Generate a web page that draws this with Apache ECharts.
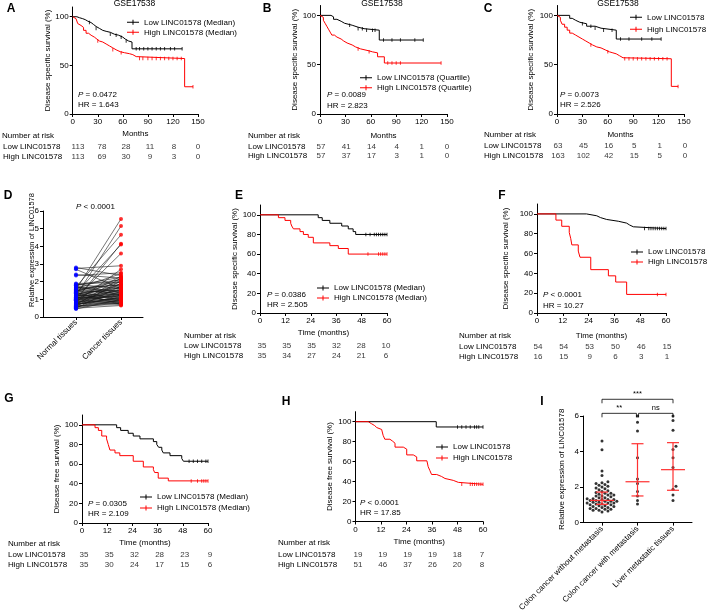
<!DOCTYPE html>
<html><head><meta charset="utf-8">
<script src="https://cdn.jsdelivr.net/npm/echarts@6.0.0/dist/echarts.min.js"></script>
<style>html,body{margin:0;padding:0;background:#fff;}#chart{width:709px;height:614px;}</style>
</head><body><div id="chart"></div>
<script>
// ================= DATA =================
const xTicksLong = [0, 30, 60, 90, 120, 150];
const xTicksShort = [0, 12, 24, 36, 48, 60];
const yTicksHalf = [0, 50, 100];
const yTicksFifth = [0, 20, 40, 60, 80, 100];
const riskRows = ['Low LINC01578', 'High LINC01578'];

// Panel A (GSE17538, median split)  [month, survival %]
const A_low = [[0,100],[5,99],[8,98],[12,97],[15,95.5],[18,94],[22,92],[25,90],[28,88],[32,86],[36,85],[40,84],[45,82],[50,81],[55,79],[60,77],[63,75],[67,74],[71,67],[131,67]];
const A_high = [[0,100],[2,98],[4,96],[6,93],[8,91],[10,89],[13,86],[16,83],[19,81],[22,79],[26,77],[29,75],[32,74],[36,72],[40,70],[44,68],[48,66],[52,64],[57,63],[62,62],[68,61],[72,59],[76,57],[134,28],[144,28]];
const A_low_censored = [20,28,45,52,58,64,76,80,85,90,95,100,105,110,117,122,131];
const A_high_censored = [30,48,58,80,84,90,95,100,105,110,115,120,125,130,144];
const A_risk_low = [113,78,28,11,8,0];
const A_risk_high = [113,69,30,9,3,0];

// Panel B (quartile split)
const B_low = [[0,100],[13,98.5],[16,96],[20,94],[25,92],[29,90],[38,88],[45,86.5],[52,85],[70,75],[122,75]];
const B_high = [[0,100],[2,98],[4,95],[6,92],[8,89],[10,86],[12,83],[14,80],[17,78],[20,76],[25,74],[28,72],[32,70],[38,68],[42,66],[48,64],[58,63],[62,62],[68,58],[76,51.7],[143,51.7]];
const B_low_censored = [35,45,50,55,62,65,75,85,95,112,122];
const B_high_censored = [45,58,80,85,90,95,143];
const B_risk_low = [57,41,14,4,1,0];
const B_risk_high = [57,37,17,3,1,0];

// Panel C
const C_low = [[0,100],[15,97],[18,95],[22,93],[27,91.5],[35,89],[45,87],[52,85],[70,76],[123,76]];
const C_high = [[0,100],[2,98],[4,95],[6,91],[9,88],[12,85],[15,82],[18,80],[22,78],[26,76],[30,74],[34,72],[38,70],[42,68],[47,67],[52,65],[57,63],[62,62],[66,61],[70,59],[74,57],[78,56],[135,28],[143,28]];
const C_low_censored = [30,40,45,55,65,75,85,100,112,123];
const C_high_censored = [40,60,80,85,90,95,100,105,110,115,120,125,130,143];
const C_risk_low = [63,45,16,5,1,0];
const C_risk_high = [163,102,42,15,5,0];

// Panel E
const E_low = [[0,100],[27.5,97.1],[29.4,94.3],[33,91.4],[38.6,88.6],[41.7,85.7],[44,82.9],[45.2,80],[60,80]];
const E_high = [[0,100],[8.7,97.1],[11.8,94.3],[14.5,91.4],[15,88.6],[15.8,85.7],[18.9,82.9],[20.5,80],[22.8,77.1],[25.2,71.4],[33,68.6],[37,65.7],[41.7,60],[60,60]];
const E_low_censored = [50,52,54,55,56,57,58,59,60];
const E_high_censored = [51,56,57,58,59,60];
const E_risk_low = [35,35,35,32,28,10];
const E_risk_high = [35,34,27,24,21,6];

// Panel F
const F_low = [[0,100],[23,98.1],[27.8,96.3],[29.5,94.4],[32.4,92.6],[37.8,90.7],[41.7,88.9],[43,87],[44.8,85.2],[60,85.2]];
const F_high = [[0,100],[8.8,93.75],[11.5,87.5],[15,81.25],[15.7,75],[16.2,68.75],[19.2,62.5],[20,56.25],[25,43.75],[33.2,37.5],[36.6,31.25],[41.7,18.75],[60,18.75]];
const F_low_censored = [50,52,53,54,55,56,57,58,59,60];
const F_high_censored = [56,60];
const F_risk_low = [54,54,53,50,46,15];
const F_risk_high = [16,15,9,6,3,1];

// Panel G (disease free, median)
const G_low = [[0,100],[16.5,97.1],[18.4,94.3],[22,91.4],[24.4,88.6],[27.6,85.7],[34,82.9],[35.6,80],[36.5,77.1],[38,74.3],[38.7,71.4],[41.9,68.6],[47.5,65.7],[48.3,62.9],[60,62.9]];
const G_high = [[0,100],[6.2,97.1],[7.8,94.3],[9.4,88.6],[11.7,85.7],[12.5,80],[13.3,74.3],[15.7,71.4],[18,68.6],[24.4,62.9],[29.2,57.1],[34,54.3],[34.6,51.4],[36.3,45.7],[41.1,42.9],[60,42.9]];
const G_low_censored = [51,53,55,57,59,60];
const G_high_censored = [52,55,57,58,59,60];
const G_risk_low = [35,35,32,28,23,9];
const G_risk_high = [35,30,24,17,15,6];

// Panel H
const H_low = [[0,100],[38,94.7],[60,94.7]];
const H_high = [[0,100],[6,98],[7.5,96.1],[9,94.1],[10,92.2],[12.3,90.2],[13,86.3],[13.8,82.4],[16.2,80.4],[17.5,78.4],[18.6,74.5],[22.5,72.5],[24.1,66.7],[27.2,64.7],[28.8,60.8],[33.6,58.8],[34.2,54.9],[35,51],[35.8,47.1],[38.2,45.1],[40.5,43.1],[42.1,41.2],[46,39.2],[48.4,37.3],[60,37.3]];
const H_low_censored = [48,50,52,54,56,57,58,60];
const H_high_censored = [50,54,55,56,57,58,59,60];
const H_risk_low = [19,19,19,19,18,7];
const H_risk_high = [51,46,37,26,20,8];

// Panel D: paired expression
const D_categories = ['Normal tissues', 'Cancer tissues'];
const D_normal = [1.55,1.20,1.70,0.95,1.35,1.10,2.75,0.85,2.35,1.60,2.80,1.00,2.40,0.70,1.45,1.80,2.70,0.60,1.25,1.90,0.75,1.15,1.65,0.50,1.05,1.30,1.85,0.90,1.40,0.65,1.75,1.00,1.50,0.80,1.20,0.55,1.60,0.95,1.10,0.70,1.35,0.85,1.25,0.45,1.05,1.50,0.75,1.15,0.60,0.90,1.30,0.55,1.00,0.80,1.70,0.65,1.40,0.50,1.10,0.85,1.80,0.95,1.55,0.70,1.20,1.45,0.60,1.05,0.75,1.65];
const D_cancer = [5.55,5.15,4.65,4.15,4.10,3.60,2.90,2.70,2.50,2.45,2.35,2.30,2.20,2.20,2.15,2.10,1.60,2.05,2.00,1.95,1.90,1.85,1.80,1.75,1.70,1.65,1.60,1.55,1.50,1.45,1.40,1.40,1.35,1.30,1.30,1.25,1.20,1.20,1.15,1.10,1.10,1.05,1.00,1.00,0.95,0.95,0.90,0.90,0.85,0.85,0.80,0.80,0.75,0.75,1.25,0.70,0.70,0.65,1.50,1.35,2.25,1.60,1.85,1.15,1.75,2.05,0.95,1.25,1.05,1.45];

// Panel I
const I_categories = ['Colon cancer without metastasis', 'Colon cancer with metastasis', 'Liver metastatic tissues'];
const I_group1 = [4.6,4.1,2.9,2.65,2.3,2.25,2.2,2.15,2.1,2.05,2.0,1.95,1.9,1.85,1.8,1.75,1.7,1.65,1.6,1.55,1.5,1.5,1.45,1.4,1.4,1.35,1.35,1.3,1.3,1.25,1.25,1.2,1.2,1.2,1.15,1.15,1.1,1.1,1.05,1.05,1.0,1.0,0.95,0.95,0.9,0.9,0.85,0.85,0.8,0.8,0.75,0.75,0.7,0.7,0.65,0.6,1.65,1.55,1.3,1.1];
const I_group2 = [6.0,5.65,5.15,3.65,2.45,2.2,1.75,1.5,1.25,1.05];
const I_group3 = [6.0,5.75,5.2,4.3,4.12,3.65,3.1,2.05,1.88,1.55,1.25];
const I_center = [1.25, 2.3, 2.98];
const I_lower = [1.03, 1.5, 1.82];
const I_upper = [1.72, 4.44, 4.5];
const I_brackets = [[0, 2, 6.94], [0, 0.97, 6.15], [1.03, 2, 6.15]];
const I_bracketLabels = ['***', '**', 'ns'];

// ================= STYLE / LAYOUT =================
const FONT = 'Liberation Sans';
const FS = 8;
const RED = '#ff0000';
const BLACK = '#000000';
const LEG_ICON = 'path://M0,9H24V11H0Z M11,5H13V15H11Z';

const grids = [], xAxes = [], yAxes = [], series = [], legends = [], graphics = [];

const axisLine = {show: true, onZero: false, lineStyle: {color: BLACK, width: 1}};
function tick(cv) { const t = {show: true, length: 3, lineStyle: {color: BLACK, width: 1}}; if (cv) t.customValues = cv; return t; }
function lab(extra) { return Object.assign({color: BLACK, fontSize: FS, fontFamily: FONT, margin: 4}, extra || {}); }
const nameStyle = {color: BLACK, fontSize: FS, fontFamily: FONT};

function txt(x, y, text, style, extra) {
  graphics.push(Object.assign({type: 'text', x: x, y: y, silent: true,
    style: Object.assign({text: text, fontSize: FS, fontFamily: FONT, fill: BLACK, align: 'left', verticalAlign: 'middle'}, style || {})}, extra || {}));
}
function pText(x, y, text) {
  txt(x, y, '{i|P} ' + text, {rich: {i: {fontStyle: 'italic', fontSize: FS, fontFamily: FONT, fill: BLACK}}});
}
function survAt(curve, t) { let s = curve[0][1]; for (const p of curve) { if (p[0] <= t) s = p[1]; } return s; }

function buildKM(p) {
  const gi = grids.length;
  grids.push(p.grid);
  const xmax = p.times[p.times.length - 1];
  xAxes.push({gridIndex: gi, type: 'value', min: 0, max: xmax, interval: p.times[1] - p.times[0],
    name: p.xName, nameLocation: 'middle', nameGap: p.xNameGap, nameTextStyle: nameStyle,
    axisLine: axisLine, axisTick: tick(), axisLabel: lab(), splitLine: {show: false}});
  yAxes.push({gridIndex: gi, type: 'value', min: 0, max: 110,
    name: p.yName, nameLocation: 'middle', nameGap: p.yNameGap, nameTextStyle: nameStyle,
    axisLine: axisLine, axisTick: tick(p.yTicks), axisLabel: lab({customValues: p.yTicks}), splitLine: {show: false}});
  const mk = (name, data, color) => ({type: 'line', name: name, xAxisIndex: gi, yAxisIndex: gi, data: data, step: 'end',
    symbol: 'none', silent: true, lineStyle: {color: color, width: 1}, itemStyle: {color: color}, z: 3});
  series.push(mk(p.nameLow, p.low, BLACK));
  series.push(mk(p.nameHigh, p.high, RED));
  const cens = (curve, times, color) => ({type: 'scatter', name: 'cens' + gi + color, xAxisIndex: gi, yAxisIndex: gi,
    data: times.map(t => [t, survAt(curve, t)]), symbol: 'rect', symbolSize: [1, 3.5], silent: true,
    itemStyle: {color: color}, z: 4});
  series.push(cens(p.low, p.lowC, BLACK));
  series.push(cens(p.high, p.highC, RED));
  legends.push({data: [p.nameLow, p.nameHigh], orient: 'vertical', left: p.legend.left, top: p.legend.top,
    itemGap: p.legend.gap, itemWidth: 12, itemHeight: 6, padding: 0, icon: LEG_ICON, selectedMode: false,
    textStyle: {fontSize: FS, fontFamily: FONT, color: BLACK, lineHeight: 10}});
  // number at risk table
  const ti = grids.length;
  grids.push({left: p.table.left, top: p.table.top, width: p.table.width, height: p.table.height});
  xAxes.push({gridIndex: ti, type: 'value', min: 0, max: xmax, show: false});
  yAxes.push({gridIndex: ti, type: 'category', data: riskRows, inverse: true,
    axisLine: {show: false}, axisTick: {show: false}, splitLine: {show: false},
    axisLabel: lab({align: 'left', margin: p.table.margin, interval: 0})});
  const rows = [];
  p.times.forEach((t, i) => { rows.push([t, riskRows[0], p.riskLow[i]]); rows.push([t, riskRows[1], p.riskHigh[i]]); });
  series.push({type: 'scatter', name: 'risk' + ti, xAxisIndex: ti, yAxisIndex: ti, data: rows, symbolSize: 1, silent: true,
    itemStyle: {color: 'rgba(0,0,0,0)'},
    label: {show: true, position: 'inside', formatter: q => String(q.value[2]), color: BLACK, fontSize: FS, fontFamily: FONT}});
  txt(p.nar[0], p.nar[1], 'Number at risk');
  pText(p.pPos[0], p.pPos[1], p.pText);
  txt(p.pPos[0], p.pPos[2], p.hrText);
}

const kmPanels = [
  {low: A_low, high: A_high, lowC: A_low_censored, highC: A_high_censored, riskLow: A_risk_low, riskHigh: A_risk_high,
   times: xTicksLong, yTicks: yTicksHalf, nameLow: 'Low LINC01578 (Median)', nameHigh: 'High LINC01578 (Median)',
   yName: 'Disease specific survival (%)', xName: 'Months', pText: '= 0.0472', hrText: 'HR = 1.643',
   grid: {left: 72.7, top: 7, width: 125.3, height: 107}, table: {left: 77, top: 141.7, width: 121, height: 20, margin: 75},
   legend: {left: 127, top: 17.3, gap: 0}, pPos: [78, 94.3, 104.7], nar: [2, 136], yNameGap: 20.5, xNameGap: 15.5},
  {low: B_low, high: B_high, lowC: B_low_censored, highC: B_high_censored, riskLow: B_risk_low, riskHigh: B_risk_high,
   times: xTicksLong, yTicks: yTicksHalf, nameLow: 'Low LINC01578 (Quartile)', nameHigh: 'High LINC01578 (Quartile)',
   yName: 'Disease specific survival (%)', xName: 'Months', pText: '= 0.0089', hrText: 'HR = 2.823',
   grid: {left: 320, top: 5.5, width: 127, height: 108.5}, table: {left: 321, top: 142, width: 126, height: 19, margin: 73},
   legend: {left: 360, top: 72.7, gap: 0}, pPos: [327, 94.3, 105.3], nar: [248, 136], yNameGap: 20.5, xNameGap: 17.5},
  {low: C_low, high: C_high, lowC: C_low_censored, highC: C_high_censored, riskLow: C_risk_low, riskHigh: C_risk_high,
   times: xTicksLong, yTicks: yTicksHalf, nameLow: 'Low LINC01578', nameHigh: 'High LINC01578',
   yName: 'Disease specific survival (%)', xName: 'Months', pText: '= 0.0073', hrText: 'HR = 2.526',
   grid: {left: 557, top: 5.5, width: 127, height: 108.5}, table: {left: 558, top: 141, width: 127, height: 20, margin: 74},
   legend: {left: 630, top: 12.3, gap: 2}, pPos: [560, 94.3, 104.7], nar: [484, 135], yNameGap: 22, xNameGap: 16.5},
  {low: E_low, high: E_high, lowC: E_low_censored, highC: E_high_censored, riskLow: E_risk_low, riskHigh: E_risk_high,
   times: xTicksShort, yTicks: yTicksFifth, nameLow: 'Low LINC01578 (Median)', nameHigh: 'High LINC01578 (Median)',
   yName: 'Disease specific survival (%)', xName: 'Time (months)', pText: '= 0.0386', hrText: 'HR = 2.505',
   grid: {left: 260, top: 205, width: 127, height: 108}, table: {left: 262, top: 341, width: 124, height: 20, margin: 78},
   legend: {left: 317, top: 283, gap: 0}, pPos: [267, 294.3, 304.3], nar: [184, 336], yNameGap: 16.5, xNameGap: 15.5},
  {low: F_low, high: F_high, lowC: F_low_censored, highC: F_high_censored, riskLow: F_risk_low, riskHigh: F_risk_high,
   times: xTicksShort, yTicks: yTicksFifth, nameLow: 'Low LINC01578', nameHigh: 'High LINC01578',
   yName: 'Disease specific survival (%)', xName: 'Time (months)', pText: '< 0.0001', hrText: 'HR = 10.27',
   grid: {left: 537, top: 204, width: 129, height: 109}, table: {left: 538, top: 342, width: 129, height: 20, margin: 79},
   legend: {left: 631, top: 247, gap: 0}, pPos: [543, 294.3, 305.3], nar: [459, 336], yNameGap: 27.5, xNameGap: 18.5},
  {low: G_low, high: G_high, lowC: G_low_censored, highC: G_high_censored, riskLow: G_risk_low, riskHigh: G_risk_high,
   times: xTicksShort, yTicks: yTicksFifth, nameLow: 'Low LINC01578 (Median)', nameHigh: 'High LINC01578 (Median)',
   yName: 'Disease free survival (%)', xName: 'Time (months)', pText: '= 0.0305', hrText: 'HR = 2.109',
   grid: {left: 82, top: 415, width: 126, height: 108}, table: {left: 84, top: 550, width: 126, height: 20, margin: 76},
   legend: {left: 140, top: 492, gap: 1}, pPos: [88, 503.3, 513.3], nar: [8, 544], yNameGap: 20, xNameGap: 15.5},
  {low: H_low, high: H_high, lowC: H_low_censored, highC: H_high_censored, riskLow: H_risk_low, riskHigh: H_risk_high,
   times: xTicksShort, yTicks: yTicksFifth, nameLow: 'Low LINC01578', nameHigh: 'High LINC01578',
   yName: 'Disease free survival (%)', xName: 'Time (months)', pText: '< 0.0001', hrText: 'HR = 17.85',
   grid: {left: 355.5, top: 411.7, width: 127.5, height: 109.8}, table: {left: 358, top: 550, width: 124, height: 20, margin: 80},
   legend: {left: 436, top: 442, gap: 1}, pPos: [360, 502.3, 512.7], nar: [278, 543], yNameGap: 21, xNameGap: 16}
];
kmPanels.forEach(buildKM);

// ----- Panel D -----
(function () {
  const gi = grids.length;
  grids.push({left: 43, top: 211, width: 100, height: 106});
  xAxes.push({gridIndex: gi, type: 'value', min: -0.733, max: 1.489, axisLine: axisLine, axisTick: tick([0, 1]),
    axisLabel: lab({customValues: [0, 1], formatter: v => D_categories[v], rotate: 45, margin: 4}), splitLine: {show: false}});
  yAxes.push({gridIndex: gi, type: 'value', min: 0, max: 6, interval: 1, axisLine: axisLine, axisTick: tick(),
    axisLabel: lab(), splitLine: {show: false}});
  series.push({type: 'lines', coordinateSystem: 'cartesian2d', xAxisIndex: gi, yAxisIndex: gi, silent: true, z: 2,
    data: D_normal.map((n, i) => ({coords: [[0, n], [1, D_cancer[i]]]})),
    lineStyle: {color: '#1a1a1a', width: 0.6, opacity: 1}});
  series.push({type: 'scatter', xAxisIndex: gi, yAxisIndex: gi, silent: true, z: 3, symbolSize: 4,
    data: D_normal.map(v => [0, v]), itemStyle: {color: '#0000ff'}});
  series.push({type: 'scatter', xAxisIndex: gi, yAxisIndex: gi, silent: true, z: 3, symbolSize: 4,
    data: D_cancer.map(v => [1, v]), itemStyle: {color: RED}});
  txt(31.5, 250, 'Relative expression of LINC01578', {align: 'center', fontSize: 7.5}, {rotation: Math.PI / 2});
  pText(76, 207, '< 0.0001');
})();

// ----- Panel I -----
function swarm(vals, center, xpu, ypu, d) {
  const sorted = vals.slice().sort((a, b) => a - b);
  const placed = [];
  for (const v of sorted) {
    const py = v * ypu;
    for (let k = 0; k < 60; k++) {
      const off = k === 0 ? 0 : (k % 2 ? 1 : -1) * Math.ceil(k / 2) * d * 0.9;
      if (placed.every(q => Math.hypot(q[0] - off, q[1] - py) >= d)) { placed.push([off, py]); break; }
    }
  }
  return placed.map(q => [center + q[0] / xpu, q[1] / ypu]);
}
(function () {
  const gi = grids.length;
  grids.push({left: 583, top: 416, width: 109, height: 107});
  xAxes.push({gridIndex: gi, type: 'value', min: -0.535, max: 2.535, axisLine: axisLine, axisTick: tick([0, 1, 2]),
    axisLabel: lab({customValues: [0, 1, 2], formatter: v => I_categories[v], rotate: 45, margin: 5}), splitLine: {show: false}});
  yAxes.push({gridIndex: gi, type: 'value', min: 0, max: 6, interval: 2, axisLine: axisLine, axisTick: tick(),
    axisLabel: lab(), splitLine: {show: false},
    name: 'Relative expression of LINC01578', nameLocation: 'middle', nameGap: 17, nameTextStyle: nameStyle});
  const xpu = 109 / 3.07, ypu = 107 / 6;
  const pts = [].concat(swarm(I_group1, 0, xpu, ypu, 3.3), swarm(I_group2, 1, xpu, ypu, 3.3), swarm(I_group3, 2, xpu, ypu, 3.3));
  series.push({type: 'scatter', xAxisIndex: gi, yAxisIndex: gi, silent: true, z: 2, symbolSize: 3,
    data: pts, itemStyle: {color: BLACK}});
  series.push({type: 'custom', xAxisIndex: gi, yAxisIndex: gi, silent: true, z: 5, clip: false,
    data: I_center.map((c, i) => [i, c, I_lower[i], I_upper[i]]), encode: {x: 0, y: [1, 2, 3]},
    renderItem: (params, api) => {
      const x = api.value(0);
      const pm = api.coord([x, api.value(1)]), pl = api.coord([x, api.value(2)]), ph = api.coord([x, api.value(3)]);
      const st = {stroke: '#ff3030', lineWidth: 1.2};
      return {type: 'group', children: [
        {type: 'line', shape: {x1: pm[0] - 12, y1: pm[1], x2: pm[0] + 12, y2: pm[1]}, style: st},
        {type: 'line', shape: {x1: pl[0], y1: pl[1], x2: ph[0], y2: ph[1]}, style: st},
        {type: 'line', shape: {x1: pl[0] - 6, y1: pl[1], x2: pl[0] + 6, y2: pl[1]}, style: st},
        {type: 'line', shape: {x1: ph[0] - 6, y1: ph[1], x2: ph[0] + 6, y2: ph[1]}, style: st}
      ]};
    }});
  series.push({type: 'custom', xAxisIndex: gi, yAxisIndex: gi, silent: true, z: 5, clip: false,
    data: I_brackets, encode: {x: [0, 1], y: 2},
    renderItem: (params, api) => {
      const a = api.coord([api.value(0), api.value(2)]), b = api.coord([api.value(1), api.value(2)]);
      return {type: 'group', children: [
        {type: 'polyline', shape: {points: [[a[0], a[1] + 4], [a[0], a[1]], [b[0], b[1]], [b[0], b[1] + 4]]},
         style: {stroke: BLACK, lineWidth: 0.8, fill: null}},
        {type: 'text', x: (a[0] + b[0]) / 2, y: a[1] - 1,
         style: {text: I_bracketLabels[params.dataIndex], fontSize: 7.5, fontFamily: FONT, fill: BLACK, align: 'center', verticalAlign: 'bottom'}}
      ]};
    }});
})();

// ----- titles & panel letters -----
[[134.5, 4], [382, 4], [618, 4]].forEach(p => txt(p[0], p[1], 'GSE17538', {align: 'center', fontSize: 8.5}));
[['A', 11, 9], ['B', 267, 9], ['C', 488, 9], ['D', 8, 196], ['E', 239, 196], ['F', 502, 196], ['G', 9, 399], ['H', 286, 402], ['I', 542, 402]]
  .forEach(l => txt(l[1], l[2], l[0], {align: 'center', fontSize: 12, fontWeight: 'bold'}));

const chart = echarts.init(document.getElementById('chart'), null, {renderer: 'canvas'});
chart.setOption({
  animation: false, backgroundColor: '#ffffff', textStyle: {fontFamily: FONT},
  grid: grids, xAxis: xAxes, yAxis: yAxes, series: series, legend: legends,
  graphic: {elements: graphics}
});
</script></body></html>
